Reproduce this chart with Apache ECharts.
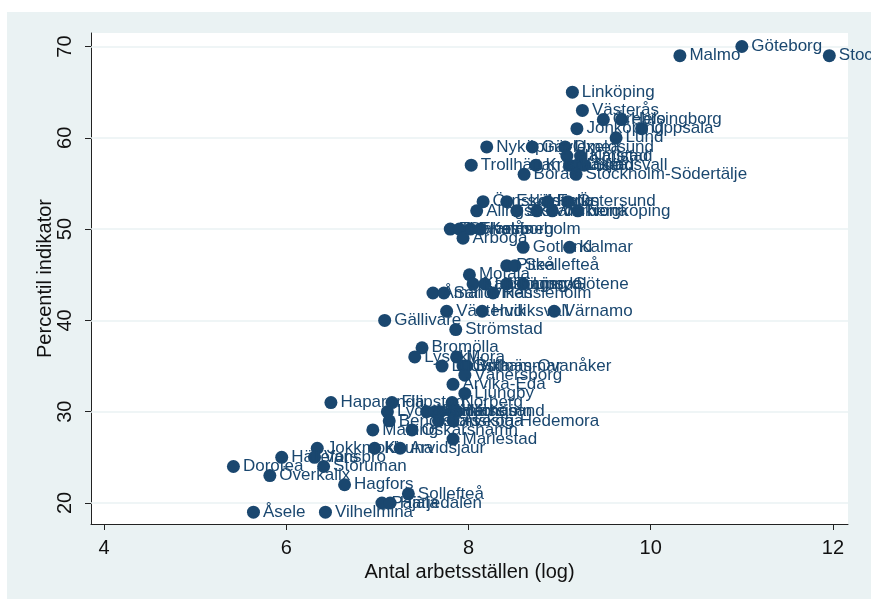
<!DOCTYPE html>
<html>
<head>
<meta charset="utf-8">
<script src="https://cdn.jsdelivr.net/npm/echarts@6/dist/echarts.min.js"></script>
<style>
html,body{margin:0;padding:0;background:#ffffff;}
#bg{position:absolute;left:7px;top:12px;width:864px;height:587px;background:#eaf2f3;}
#chart{position:absolute;left:0;top:0;width:871px;height:599px;}
</style>
</head>
<body>
<div id="bg"></div>
<div id="chart"></div>
<script>
const names = ["Göteborg","Malmo","Stockholm","Linköping","Västerås","Örebro","Helsingborg","Jönköping","Uppsala","Lund",
"Nyköping-Oxelösund","Gävle","Umeå","Halmstad","Karlstad","Trollhättan","Kristianstad","Växjö","Luleå","Sundsvall",
"Borås","Stockholm-Södertälje","Örnsköldsvik","Eskilstuna","Falun","Östersund","Alingsås","Skövde","Karlskrona","Varberg",
"Norrköping","Tidaholm","Sölvesborg","Tranås","Katrineholm","Arboga","Gotland","Kalmar","Piteå","Skellefteå",
"Motala","Karlshamn","Lidköping-Götene","Tingsryd","Ljusdal","Åmål","Sandviken","Hässleholm","Västervik","Hudiksvall",
"Värnamo","Gällivare","Strömstad","Bromölla","Lysekil","Mora","Ludvika","Östhammar","Bollnäs-Ovanåker","Vänersborg",
"Arvika-Eda","Ljungby","Haparanda","Filipstad","Norberg","Lycksele","Kramfors","Söderhamn","Sala","Härnösand",
"Nässjö","Bengtsfors","Karlskoga","Avesta-Hedemora","Malung","Oskarshamn","Mariestad","Jokkmokk","Kiruna","Arvidsjaur",
"Hällefors","Vansbro","Dorotea","Storuman","Överkalix","Hagfors","Sollefteå","Pajala","Härjedalen","Åsele","Vilhelmina"];
const xs = [11.00,10.32,11.96,9.14,9.25,9.48,9.68,9.19,9.90,9.62,
8.20,8.70,9.06,9.08,9.23,8.03,8.74,9.11,9.19,9.27,
8.61,9.18,8.16,8.42,8.87,9.09,8.09,8.53,8.75,8.92,
9.20,7.80,7.90,8.02,8.13,7.94,8.60,9.11,8.42,8.51,
8.01,8.05,8.18,8.42,8.60,7.61,7.73,8.27,7.76,8.15,
8.94,7.08,7.86,7.49,7.41,7.87,7.71,7.94,7.98,7.96,
7.83,7.96,6.49,7.16,7.82,7.11,7.54,7.63,7.69,7.82,
7.87,7.13,7.67,7.83,6.95,7.38,7.83,6.34,6.97,7.25,
5.95,6.31,5.42,6.41,5.82,6.64,7.34,7.05,7.14,5.64,6.43];
const ys = [70,69,69,65,63,62,62,61,61,60,
59,59,59,58,58,57,57,57,57,57,
56,56,53,53,53,53,52,52,52,52,
52,50,50,50,50,49,48,48,46,46,
45,44,44,44,44,43,43,43,41,41,
41,40,39,37,36,36,35,35,35,34,
33,32,31,31,31,30,30,30,30,30,
30,29,29,29,28,28,27,26,26,26,
25,25,24,24,23,22,21,20,20,19,19];
const xTicks = [4,6,8,10,12];
const yTicks = [20,30,40,50,60,70];

const navy = '#1a476f';
const data = names.map((n,i)=>({name:n, value:[xs[i], ys[i]]}));

const chart = echarts.init(document.getElementById('chart'), null, {renderer:'canvas'});
chart.setOption({
  animation:false,
  backgroundColor:'transparent',
  textStyle:{fontFamily:'Liberation Sans, Arial, sans-serif'},
  grid:{left:91, right:23, top:33, bottom:75, show:true, backgroundColor:'#ffffff', borderWidth:0},
  xAxis:{
    type:'value', min:3.857, max:12.165,
    name:'Antal arbetsställen (log)', nameLocation:'middle', nameGap:38,
    nameTextStyle:{fontSize:20, color:'#111'},
    axisLine:{show:true, onZero:false, lineStyle:{color:'#222', width:1}},
    axisTick:{show:true, customValues:xTicks, length:6, lineStyle:{color:'#222'}},
    axisLabel:{customValues:xTicks, fontSize:20, color:'#111', margin:14},
    splitLine:{show:false}
  },
  yAxis:{
    type:'value', min:17.7, max:71.48,
    name:'Percentil indikator', nameLocation:'middle', nameGap:36, nameRotate:90,
    nameMoveOverlap:false,
    nameTextStyle:{fontSize:20, color:'#111'},
    axisLine:{show:true, onZero:false, lineStyle:{color:'#222', width:1}},
    axisTick:{show:true, customValues:yTicks, length:6, lineStyle:{color:'#222'}},
    axisLabel:{customValues:yTicks, fontSize:20, color:'#111', margin:16, rotate:90},
    splitLine:{show:false}
  },
  series:[
    {
      type:'line', data:[], z:1, silent:true,
      markLine:{z:1, silent:true, symbol:'none', animation:false, label:{show:false},
        lineStyle:{color:'#eaf2f3', width:1.5, type:'solid'},
        data:yTicks.map(v=>({yAxis:v}))}
    },
    {
      type:'scatter', z:3, symbol:'circle', symbolSize:13,
      itemStyle:{color:navy, opacity:1},
      label:{show:true, position:'right', distance:3, formatter:'{b}', fontSize:17, color:navy},
      data:data
    }
  ]
});
</script>
</body>
</html>
